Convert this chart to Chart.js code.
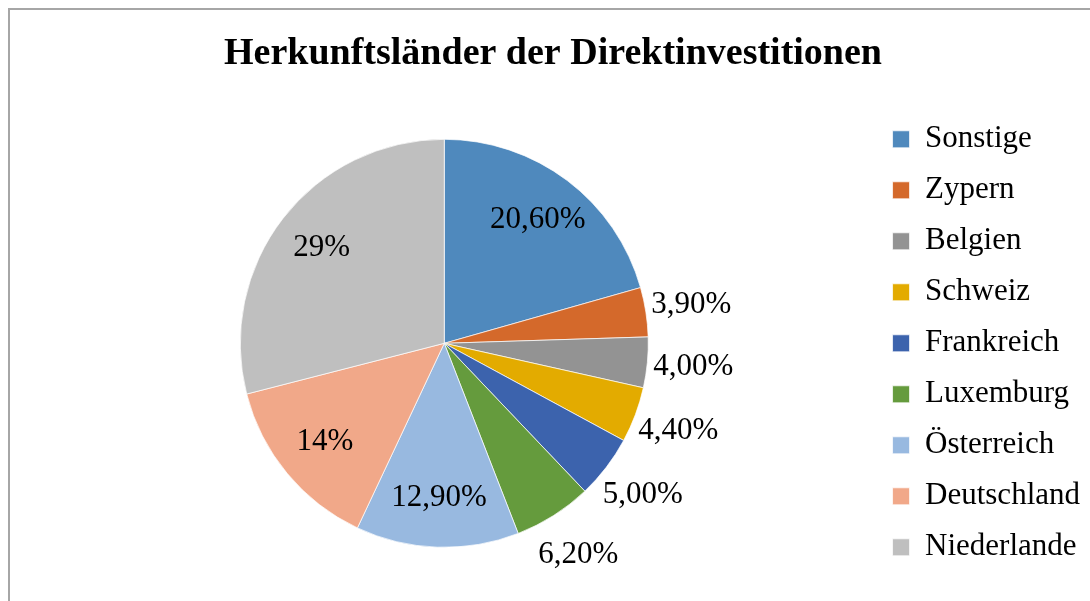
<!DOCTYPE html>
<html>
<head>
<meta charset="utf-8">
<script src="https://cdn.jsdelivr.net/npm/chart.js@4.4.0/dist/chart.umd.min.js"></script>
<style>
    html, body { margin: 0; padding: 0; background: #fff; overflow: hidden; }
    #frame { position: absolute; left: 8px; top: 8px; width: 1092px; height: 603px; border: 2px solid #a6a6a6; }
    #chart { display: block; }
</style>
</head>
<body>
<div id="frame"><canvas id="chart" width="1092" height="600"></canvas></div>
<script>
const countries = ['Sonstige', 'Zypern', 'Belgien', 'Schweiz', 'Frankreich', 'Luxemburg', 'Österreich', 'Deutschland', 'Niederlande'];
const shares = [20.6, 3.9, 4.0, 4.4, 5.0, 6.2, 12.9, 14, 29];
const shareLabels = ['20,60%', '3,90%', '4,00%', '4,40%', '5,00%', '6,20%', '12,90%', '14%', '29%'];
const sliceColors = ['#4f89bd', '#d4692b', '#939393', '#e3ab00', '#3c63ad', '#659b3d', '#98b9e0', '#f1a889', '#bfbfbf'];

Chart.defaults.font.family = '"Liberation Serif", "Times New Roman", serif';
Chart.defaults.color = '#000';

// percent labels: inside for the big slices, outside for the small ones
const sliceLabels = {
    id: 'sliceLabels',
    afterDatasetsDraw(chart) {
        const ctx = chart.ctx;
        const meta = chart.getDatasetMeta(0);
        ctx.save();
        ctx.font = '31px "Liberation Serif"';
        ctx.fillStyle = '#000';
        ctx.textAlign = 'center';
        ctx.textBaseline = 'middle';
        meta.data.forEach((arc, i) => {
            const { x, y, startAngle, endAngle, outerRadius } =
                arc.getProps(['x', 'y', 'startAngle', 'endAngle', 'outerRadius'], true);
            const mid = (startAngle + endAngle) / 2;
            const dist = shares[i] < 10 ? outerRadius + 46 : outerRadius * 0.76;
            ctx.fillText(shareLabels[i], x + Math.cos(mid) * dist, y + Math.sin(mid) * dist);
        });
        ctx.restore();
    }
};

const pieConf = {
    type: 'pie',
    data: {
        labels: countries,
        datasets: [{
            data: shares,
            backgroundColor: sliceColors,
            borderColor: 'rgba(255,255,255,0.7)',
            borderWidth: 1,
        }]
    },
    options: {
        responsive: false,
        animation: false,
        radius: 204,
        layout: {
            padding: { left: 6, right: 12, top: 0, bottom: 0 }
        },
        plugins: {
            title: {
                display: true,
                text: 'Herkunftsländer der Direktinvestitionen',
                font: { size: 38, weight: 'bold' },
                color: '#000',
                padding: { top: 21, bottom: 0 }
            },
            legend: {
                position: 'right',
                fullSize: false,
                labels: {
                    boxWidth: 17,
                    boxHeight: 17,
                    padding: 20,
                    font: { size: 31 },
                    color: '#000'
                }
            },
            tooltip: { enabled: false }
        }
    },
    plugins: [sliceLabels]
};

new Chart(document.getElementById('chart'), pieConf);
</script>
</body>
</html>
